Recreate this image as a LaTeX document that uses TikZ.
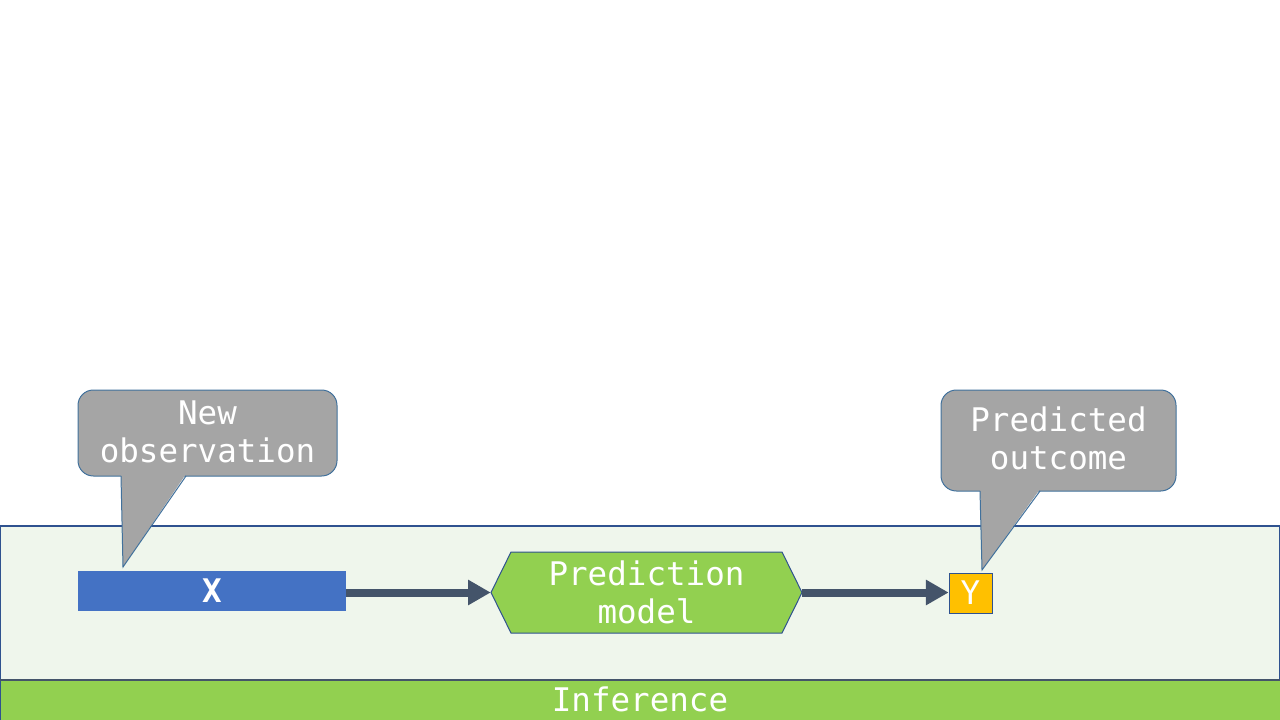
\documentclass[tikz,border=0pt]{standalone}
\usepackage{fontspec}
\setmainfont{DejaVu Sans Mono}
\usetikzlibrary{arrows.meta}
\definecolor{panelfill}{HTML}{EFF6EC}
\definecolor{edgeblue}{HTML}{2F528F}
\definecolor{xblue}{HTML}{4472C4}
\definecolor{lgreen}{HTML}{92D050}
\definecolor{slate}{HTML}{44546A}
\definecolor{gold}{HTML}{FFC000}
\definecolor{callgray}{HTML}{A5A5A5}
\definecolor{calledge}{HTML}{41719C}
\begin{document}
\begin{tikzpicture}[x=0.75pt,y=-0.75pt,
  lbl/.style={text=white, font=\fontsize{24.4}{28.5}\selectfont, align=center, inner sep=0pt},
  flow/.style={draw=slate, line width=6pt, -{Triangle[length=17pt,width=18pt]}},
  callbox/.style={fill=callgray, draw=calledge, line width=0.75pt, rounded corners=11.5pt}]
\useasboundingbox (0,0) rectangle (1280,720);
% panel
\draw[fill=panelfill, draw=edgeblue, line width=1.5pt] (0,526) rectangle (1280,680);
% bottom bar
\draw[fill=lgreen, draw=edgeblue, line width=0.75pt] (0,680) rectangle (1280,720);
\draw[slate, line width=2pt] (0,680) -- (1280,680);
\node[lbl] (inf) at (640,699) {Inference};
% X box
\node[lbl, fill=xblue, minimum width=201pt, minimum height=30pt, font=\fontsize{24.4}{28.5}\selectfont\bfseries] (xn) at (212,591) {X};
% hexagon
\draw[fill=lgreen, draw=edgeblue, line width=0.75pt] (491,592.5) -- (511,552) -- (782,552) -- (802,592.5) -- (782,633) -- (511,633) -- cycle;
\node[lbl, minimum width=233.25pt, minimum height=60.75pt] (pm) at (646.5,592.5) {Prediction\\model};
% Y box
\node[lbl, fill=gold, draw=edgeblue, line width=0.6pt, minimum width=32.25pt, minimum height=30pt] (yn) at (970.5,593) {Y};
% arrows
\draw[flow] (pm.west -| xn.east) -- (pm.west);
\draw[flow] (pm.east) -- (pm.east -| yn.west);
% callout 1
\draw[callbox] (78,390) rectangle (337,476);
\fill[callgray] (121,474) -- (186,474) -- (123,567) -- cycle;
\draw[calledge, line width=0.75pt] (121,476) -- (123,567) -- (186,476);
\node[lbl] (c1) at (207.5,432) {New\\observation};
% callout 2
\draw[callbox] (941,390) rectangle (1176,491);
\fill[callgray] (980,489) -- (1040,489) -- (982,570) -- cycle;
\draw[calledge, line width=0.75pt] (980,491) -- (982,570) -- (1040,491);
\node[lbl] (c2) at (1058.5,438) {Predicted\\outcome};
\end{tikzpicture}
\end{document}
